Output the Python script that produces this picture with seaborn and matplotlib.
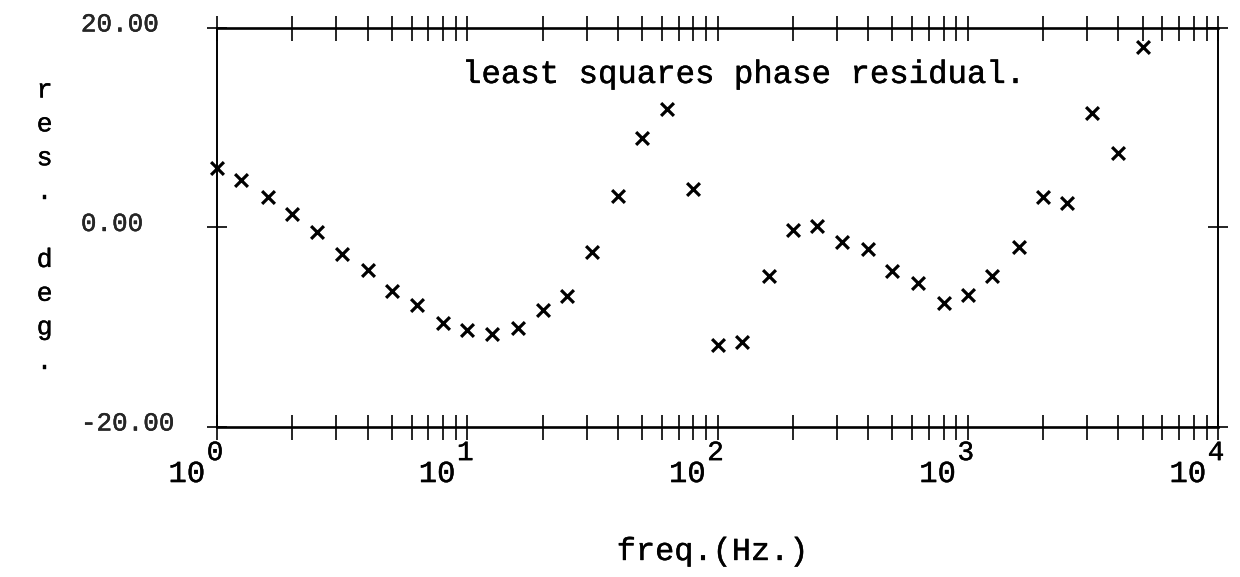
import numpy as np
import matplotlib
matplotlib.use("Agg")
import matplotlib.pyplot as plt
import matplotlib.patheffects as pe
from matplotlib.ticker import LogLocator, NullFormatter, FixedLocator
from matplotlib.transforms import offset_copy, ScaledTranslation
import seaborn as sns

# 1/3 octave band centre frequencies (Hz) and phase residual (deg)
freq_hz = [1, 1.25, 1.6, 2, 2.5, 3.15, 4, 5, 6.3, 8,
           10, 12.5, 16, 20, 25, 31.5, 40, 50, 63, 80,
           100, 125, 160, 200, 250, 315, 400, 500, 630, 800,
           1000, 1250, 1600, 2000, 2500, 3150, 4000, 5000]
residual_deg = [6.0, 4.8, 3.1, 1.4, -0.5, -2.7, -4.3, -6.4, -7.8, -9.6,
                -10.3, -10.7, -10.1, -8.3, -6.9, -2.5, 3.2, 9.0, 11.9, 3.9,
                -11.8, -11.5, -4.9, -0.3, 0.1, -1.5, -2.2, -4.4, -5.6, -7.6,
                -6.8, -4.9, -2.0, 3.1, 2.5, 11.5, 7.5, 18.1]

decades = [0, 1, 2, 3, 4]
y_ticks = [-20, 0, 20]
y_tick_labels = ["-20.00", "0.00", "20.00"]

sns.set_theme(style="white")
plt.rcParams['font.family'] = ['Liberation Mono', 'DejaVu Sans Mono']

ink = [pe.withStroke(linewidth=0.3, foreground='black')]

fig = plt.figure(figsize=(12.4, 5.77), dpi=100)
ax = fig.add_axes([0.175, 0.26, 0.80726, 0.69151])

sns.scatterplot(x=freq_hz, y=residual_deg, marker='x', color='black',
                s=85, linewidth=2.3, ax=ax, clip_on=False, zorder=3)

ax.set_xscale('log')
ax.set_xlim(1, 1e4)
ax.set_ylim(-20, 20)

ax.xaxis.set_major_locator(FixedLocator([10.0 ** d for d in decades]))
ax.xaxis.set_minor_locator(LogLocator(base=10, subs=np.arange(2, 10)))
ax.xaxis.set_minor_formatter(NullFormatter())
ax.tick_params(axis='x', which='both', direction='inout', length=18, width=1.2,
               color='black', top=True, bottom=True, labelbottom=False)

ax.set_yticks(y_ticks)
ax.set_yticklabels(y_tick_labels)
ax.tick_params(axis='y', direction='inout', length=14, width=1.2, color='black',
               left=True, right=True, labelsize=18.7, pad=91)
for lab in ax.get_yticklabels():
    lab.set_horizontalalignment('left')
    lab.set_transform(lab.get_transform() + ScaledTranslation(0, 6 / 100, fig.dpi_scale_trans))
    lab.set_path_effects(ink)

for side in ['top', 'bottom']:
    ax.spines[side].set_linewidth(1.9)
for side in ['left', 'right']:
    ax.spines[side].set_linewidth(1.4)
for sp in ax.spines.values():
    sp.set_color('black')

# decade labels written as 10 with a raised exponent
xt = ax.get_xaxis_transform()
for d in decades:
    ax.text(10.0 ** d, -0.138, "10", transform=offset_copy(xt, fig, x=-12, y=0, units='dots'),
            ha='right', va='baseline', fontsize=22, color='black', path_effects=ink)
    ax.text(10.0 ** d, -0.083, str(d), transform=offset_copy(xt, fig, x=-2, y=0, units='dots'),
            ha='center', va='baseline', fontsize=20, color='black', path_effects=ink)

ax.text(0.2448, 0.8622, "least squares phase residual.", transform=ax.transAxes,
        ha='left', va='baseline', fontsize=23.3, color='black', path_effects=ink)

fig.text(0.575, 0.0295, "freq.(Hz.)", ha='center', va='baseline', fontsize=23,
         color='black', path_effects=ink)
fig.text(0.036, 0.6083, "\n".join("res. deg."), ha='center', va='center',
         fontsize=19, linespacing=1.52, color='black', path_effects=ink)

fig.savefig('out.png', dpi=100)
